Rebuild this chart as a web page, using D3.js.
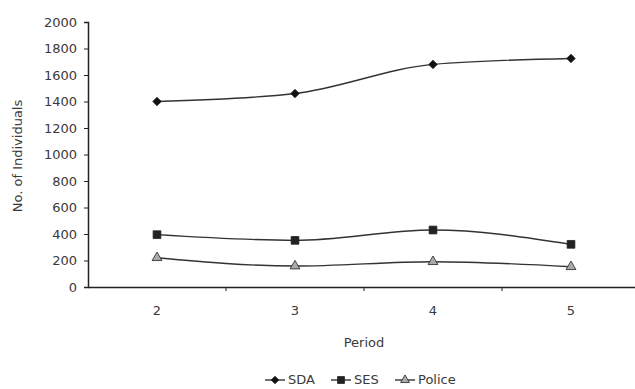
<!DOCTYPE html>
<html>
<head>
<meta charset="utf-8">
<script src="https://cdn.jsdelivr.net/npm/d3@7"></script>
<style>
  html, body { margin: 0; padding: 0; background: #fff; }
  svg { display: block; }
  text { font-family: "DejaVu Sans", "Liberation Sans", sans-serif; fill: #3a3a3a; }
</style>
</head>
<body>
<svg id="chart" width="635" height="389"></svg>
<script>
const periods = ["2", "3", "4", "5"];
const sdaValues = [1400, 1460, 1680, 1725];
const sesValues = [395, 352, 430, 322];
const policeValues = [221, 158, 191, 153];
const yTicks = [0, 200, 400, 600, 800, 1000, 1200, 1400, 1600, 1800, 2000];
const seriesNames = ["SDA", "SES", "Police"];

const series = [
  { name: seriesNames[0], values: sdaValues, symbol: d3.symbolSquare, rot: 45, size: 36, fill: "#111" },
  { name: seriesNames[1], values: sesValues, symbol: d3.symbolSquare, rot: 0, size: 60, fill: "#222" },
  { name: seriesNames[2], values: policeValues, symbol: d3.symbolTriangle, rot: 0, size: 42, fill: "#aaa" }
];

const svg = d3.select("#chart");
const FS = "13px";

const x = d3.scaleBand().domain(periods).range([88, 640]);
const y = d3.scaleLinear().domain([0, 2000]).range([287, 22]);

// Y axis
const yAxis = svg.append("g").attr("transform", "translate(88,0)")
  .call(d3.axisLeft(y).tickValues(yTicks).tickSize(4).tickPadding(7).tickFormat(d3.format("d")));
yAxis.selectAll("text").style("font-size", FS).attr("fill", "#3a3a3a");
yAxis.select(".domain").attr("stroke", "#222").attr("stroke-width", 1.5);
yAxis.selectAll(".tick line").attr("stroke", "#222");

// X axis
const xAxis = svg.append("g").attr("transform", "translate(0,287)")
  .call(d3.axisBottom(x).tickSize(0).tickPadding(19));
xAxis.selectAll("text").style("font-size", FS).attr("fill", "#3a3a3a");
xAxis.select(".domain").attr("stroke", "#222").attr("stroke-width", 1.5);
// tick marks between categories
svg.append("g").selectAll("line")
  .data(periods.slice(1))
  .join("line")
  .attr("x1", d => x(d)).attr("x2", d => x(d))
  .attr("y1", 287).attr("y2", 291)
  .attr("stroke", "#222");

// Axis titles
svg.append("text")
  .attr("transform", `translate(18,156) rotate(-90)`)
  .attr("text-anchor", "middle").attr("dominant-baseline", "middle")
  .style("font-size", FS).text("No. of Individuals");
svg.append("text")
  .attr("x", 364).attr("y", 343)
  .attr("text-anchor", "middle").attr("dominant-baseline", "middle")
  .style("font-size", FS).text("Period");

// Lines
const line = d3.line()
  .x((d, i) => x(periods[i]) + x.bandwidth() / 2)
  .y(d => y(d))
  .curve(d3.curveMonotoneX);

series.forEach(s => {
  svg.append("path").datum(s.values)
    .attr("d", line).attr("fill", "none")
    .attr("stroke", "#333").attr("stroke-width", 1.4);
  svg.append("g").selectAll("path")
    .data(s.values)
    .join("path")
    .attr("transform", (d, i) => `translate(${x(periods[i]) + x.bandwidth() / 2},${y(d)}) rotate(${s.rot})`)
    .attr("d", d3.symbol().type(s.symbol).size(s.size))
    .attr("fill", s.fill).attr("stroke", "#222").attr("stroke-width", 0.8);
});

// Legend
const legendItems = [
  { x0: 265, tx: 288 },
  { x0: 331, tx: 354 },
  { x0: 395, tx: 418 }
];
series.forEach((s, i) => {
  const g = svg.append("g");
  const lx = legendItems[i].x0;
  g.append("line").attr("x1", lx).attr("x2", lx + 20).attr("y1", 380).attr("y2", 380)
    .attr("stroke", "#333").attr("stroke-width", 1.4);
  g.append("path").attr("transform", `translate(${lx + 10},380) rotate(${s.rot})`)
    .attr("d", d3.symbol().type(s.symbol).size(s.size * 0.8))
    .attr("fill", s.fill).attr("stroke", "#222").attr("stroke-width", 0.8);
  g.append("text").attr("x", legendItems[i].tx).attr("y", 380)
    .attr("dominant-baseline", "middle").style("font-size", FS).text(s.name);
});
</script>
</body>
</html>
